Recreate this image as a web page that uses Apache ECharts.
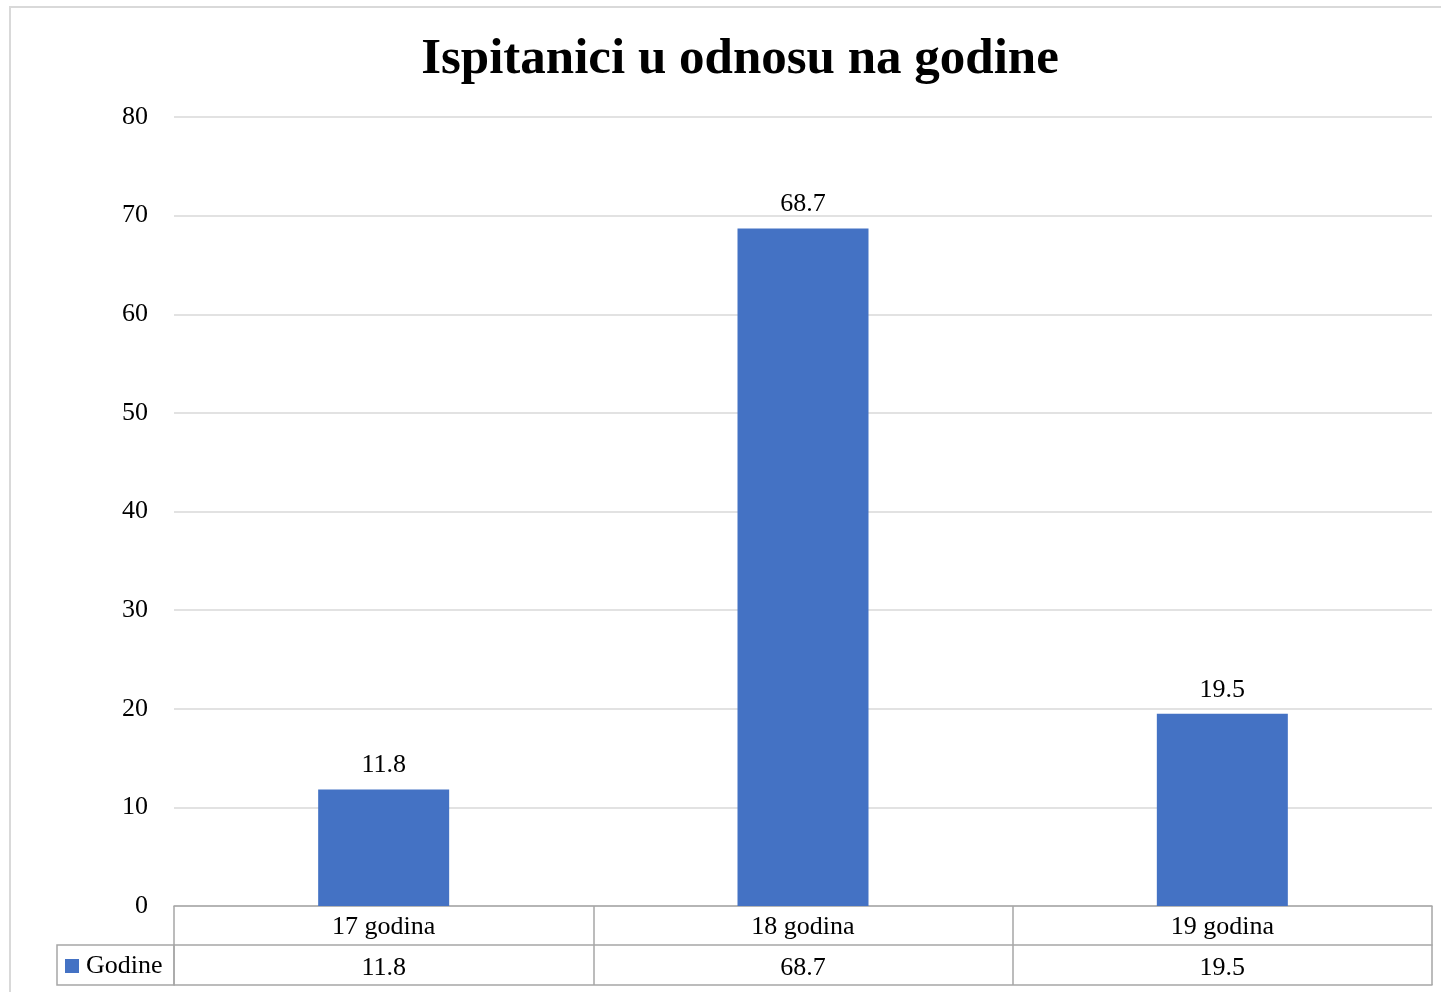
<!DOCTYPE html>
<html>
<head>
<meta charset="utf-8">
<script src="https://cdn.jsdelivr.net/npm/echarts@6/dist/echarts.min.js"></script>
<style>
  html, body { margin: 0; padding: 0; background: #fff; }
  #chart { width: 1441px; height: 992px; }
</style>
</head>
<body>
<div id="chart"></div>
<script>
const categories = ["17 godina", "18 godina", "19 godina"];
const godine = [11.8, 68.7, 19.5];
const seriesName = "Godine";

const FONT = "Liberation Serif";
const tableLine = "#a6a6a6";

const chart = echarts.init(document.getElementById("chart"));

chart.setOption({
  animation: false,
  backgroundColor: "#fff",
  textStyle: { fontFamily: FONT },
  title: {
    text: "Ispitanici u odnosu na godine",
    left: 735,
    textAlign: "center",
    top: 29,
    textStyle: { fontFamily: FONT, fontWeight: "bold", fontSize: 51, color: "#000" }
  },
  legend: {
    data: [seriesName],
    left: 65,
    top: 953,
    padding: 0,
    icon: "rect",
    itemWidth: 14,
    itemHeight: 14,
    itemGap: 5,
    textStyle: { fontFamily: FONT, fontSize: 26, color: "#000", padding: [0, 0, 0, 2] }
  },
  grid: { left: 174, right: 9, top: 117, bottom: 86 },
  xAxis: [
    {
      type: "category",
      data: categories,
      position: "bottom",
      axisLine: { show: true, lineStyle: { color: tableLine, width: 1.5 } },
      axisTick: { show: true, length: 79, lineStyle: { color: tableLine, width: 1.5 } },
      axisLabel: { fontSize: 26, color: "#000", margin: 8, fontFamily: FONT }
    },
    {
      type: "category",
      data: godine.map(String),
      position: "bottom",
      offset: 39,
      axisLine: { show: true, lineStyle: { color: tableLine, width: 1.5 } },
      axisTick: { show: false },
      axisLabel: { fontSize: 26, color: "#000", margin: 10, fontFamily: FONT }
    },
    {
      type: "category",
      data: categories,
      position: "bottom",
      offset: 79,
      axisLine: { show: true, lineStyle: { color: tableLine, width: 1.5 } },
      axisTick: { show: false },
      axisLabel: { show: false }
    }
  ],
  yAxis: {
    type: "value",
    min: 0,
    max: 80,
    interval: 10,
    axisLine: { show: false },
    axisTick: { show: false },
    axisLabel: { fontSize: 26, color: "#000", margin: 26, fontFamily: FONT },
    splitLine: { lineStyle: { color: "#d9d9d9", width: 1.5 } }
  },
  series: [
    {
      name: seriesName,
      type: "bar",
      data: godine,
      barWidth: 131,
      itemStyle: { color: "#4472C4" },
      label: {
        show: true,
        position: "top",
        distance: 11,
        fontSize: 26,
        color: "#000",
        fontFamily: FONT
      }
    }
  ],
  graphic: [
    {
      type: "rect",
      shape: { x: 10, y: 7, width: 1440, height: 1000 },
      style: { fill: "none", stroke: "#d9d9d9", lineWidth: 2 },
      silent: true
    },
    {
      type: "rect",
      shape: { x: 57, y: 945, width: 117, height: 40 },
      style: { fill: "none", stroke: tableLine, lineWidth: 1.5 },
      silent: true
    }
  ]
});
</script>
</body>
</html>
